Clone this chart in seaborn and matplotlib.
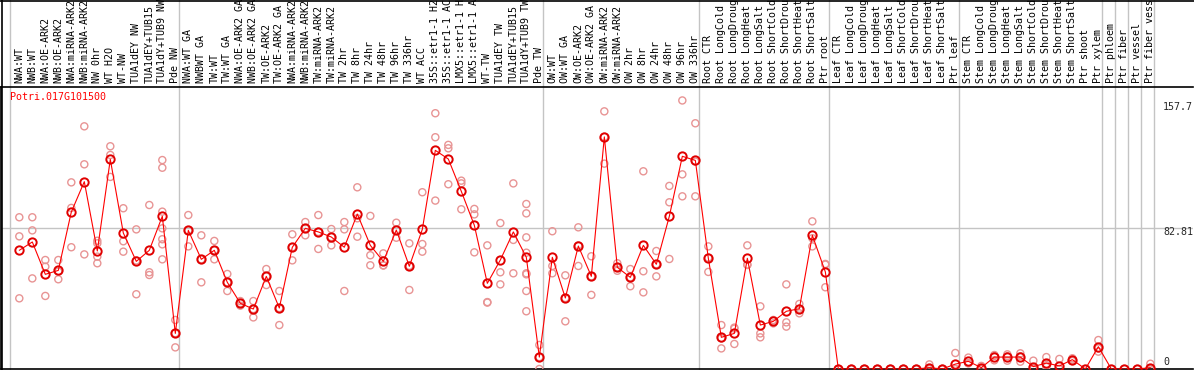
import numpy as np
import pandas as pd
import matplotlib
matplotlib.use("Agg")
import matplotlib.pyplot as plt
from matplotlib.lines import Line2D
import seaborn as sns

# sample names (as truncated in the original header)
labels = ["NWA:WT", "NWB:WT", "NWA:OE-ARK2", "NWB:OE-ARK2", "NWA:miRNA-ARK2", "NWB:miRNA-ARK2",
          "NW 0hr", "WT H2O", "WT-NW", "TUA1dEY NW", "TUA1dEY+TUB15", "TUA1dY+TUB9 NW", "Pde NW",
          "NWA:WT GA", "NWBWT GA", "TW:WT", "TW:WT GA", "NWA:OE-ARK2 GA", "NWB:OE-ARK2 GA",
          "TW:OE-ARK2", "TW:OE-ARK2 GA", "NWA:miRNA-ARK2", "NWB:miRNA-ARK2", "TW:miRNA-ARK2",
          "TW:miRNA-ARK2", "TW 2hr", "TW 8hr", "TW 24hr", "TW 48hr", "TW 96hr", "TW 336hr", "WT ACC",
          "35S::etr1-1 H2", "35S::etr1-1 AC", "LMX5::etr1-1 H", "LMX5::etr1-1 A", "WT-TW",
          "TUA1dEY TW", "TUA1dEY+TUB15", "TUA1dY+TUB9 TW", "Pde TW",
          "OW:WT", "OW:WT GA", "OW:OE-ARK2", "OW:OE-ARK2 GA", "OW:miRNA-ARK2", "OW:miRNA-ARK2",
          "OW 2hr", "OW 8hr", "OW 24hr", "OW 48hr", "OW 96hr", "OW 336hr",
          "Root CTR", "Root LongCold", "Root LongDroug", "Root LongHeat", "Root LongSalt",
          "Root ShortCold", "Root ShortDrou", "Root ShortHeat", "Root ShortSalt", "Ptr root",
          "Leaf CTR", "Leaf LongCold", "Leaf LongDroug", "Leaf LongHeat", "Leaf LongSalt",
          "Leaf ShortCold", "Leaf ShortDrou", "Leaf ShortHeat", "Leaf ShortSalt", "Ptr leaf",
          "Stem CTR", "Stem LongCold", "Stem LongDroug", "Stem LongHeat", "Stem LongSalt",
          "Stem ShortCold", "Stem ShortDrou", "Stem ShortHeat", "Stem ShortSalt", "Ptr shoot",
          "Ptr xylem", "Ptr phloem", "Ptr fiber", "Ptr vessel", "Ptr fiber vess"]

# sizes of the sample groups (separated by gray lines)
group_sizes = [13, 28, 12, 10, 10, 11, 1, 1, 1, 1]

# mean expression per sample
means = [69.7, 74.6, 55.6, 57.9, 92.2, 110.0, 69.3, 123.1, 79.9, 63.2, 69.7, 89.7, 20.9,
         81.4, 64.4, 69.7, 50.9, 38.6, 35.2, 54.4, 35.8, 71.5, 82.6, 80.5, 77.5, 71.5, 91.0,
         72.6, 63.2, 81.6, 60.3, 82.0, 128.4, 123.3, 104.3, 84.4, 50.3, 64.0, 80.5, 65.6, 7.0,
         65.6, 41.7, 72.2, 54.4, 136.3, 59.7, 53.8, 72.6, 61.5, 89.7, 124.9, 122.5,
         65.0, 18.6, 20.9, 65.0, 25.8, 28.0, 33.9, 35.4, 78.5, 57.0,
         0, 0, 0, 0, 0, 0, 0, 0.8, 0, 2.9,
         4.5, 0.8, 7.0, 7.0, 7.0, 1.4, 3.5, 1.8, 5.5, 0, 13.1,
         0, 0, 0, 0.8]

# individual replicates per sample
reps = [[89.1, 77.9, 41.5], [89.1, 81.4, 53.2], [64.0, 60.1, 42.9], [64.0, 57.2, 52.7],
        [109.6, 94.6, 71.5], [142.5, 120.2, 67.3], [75.3, 73.8, 66.0, 62.1], [130.8, 125.7, 112.8],
        [94.4, 75.0, 68.9], [82.0, 63.7, 43.9], [96.3, 56.8, 55.2],
        [122.7, 118.2, 92.4, 82.6, 76.2, 73.2, 64.4], [28.8, 21.0, 12.7],
        [90.4, 81.4, 72.0], [78.5, 64.4, 50.9], [75.2, 69.7, 64.4], [55.8, 50.9, 45.8],
        [39.9, 38.6, 37.2], [39.9, 35.2, 30.3], [58.7, 54.4, 49.3], [45.8, 35.8, 25.8],
        [79.1, 71.5, 63.8], [86.3, 82.6, 78.5], [90.4, 80.5, 70.5], [82.2, 77.5, 72.6],
        [86.3, 82.0, 45.8], [106.7, 88.5, 77.7], [89.9, 66.8, 60.9], [67.9, 60.9, 60.8],
        [85.9, 81.6, 77.1], [73.8, 60.6, 46.4], [103.8, 73.4, 68.9], [150.2, 136.1, 98.9],
        [131.6, 129.6, 108.5], [110.6, 109.0, 93.8], [94.0, 90.8, 68.5], [72.6, 39.3, 39.0],
        [85.7, 56.8, 49.7], [109.0, 75.8, 56.2],
        [96.9, 91.4, 77.3, 68.3, 56.2, 55.6, 45.8, 33.9], [14.1, 7.0, 0.0],
        [80.9, 60.5, 56.2], [55.0, 41.7, 28.0], [83.2, 72.6, 60.5], [66.2, 54.4, 43.5],
        [151.3, 136.3, 120.6], [62.1, 59.7, 57.7], [58.7, 53.8, 48.6], [116.1, 57.4, 45.0],
        [69.3, 61.5, 54.4], [107.5, 97.9, 64.6], [157.7, 114.3, 101.4], [144.3, 121.8, 101.4],
        [72.0, 65.4, 57.0], [25.8, 18.0, 12.1], [24.3, 23.7, 14.7], [72.6, 61.3, 61.1],
        [36.8, 20.9, 18.6], [28.8, 28.4, 26.8], [49.7, 27.4, 24.9], [38.2, 35.4, 32.7],
        [86.7, 76.8, 72.0], [61.7, 61.3, 48.0],
        [0, 0, 0], [0, 0, 0], [0, 0, 0], [0, 0, 0], [0, 0, 0], [0, 0, 0], [0, 0, 0],
        [2.7, 0, 0], [0, 0, 0], [9.4, 0, 0],
        [6.7, 3.5, 3.3], [1.8, 0.6, 0], [8.2, 7.7, 5.1], [8.6, 7.5, 4.9], [9.2, 7.5, 4.3],
        [4.9, 0, 0], [7.0, 2.3, 1.2], [5.9, 0, 0], [6.3, 5.5, 4.7], [0], [17.0, 12.1, 10.2],
        [0], [0], [0], [3.1, 0, 0]]

gene = "Potri.017G101500"
ref_val = 82.81
max_val = 157.7

sns.set_style("white")
plt.rcParams['font.family'] = ['DejaVu Sans Mono', 'DejaVu Sans']

W, H = 1194, 370
fig = plt.figure(figsize=(W / 100, H / 100), dpi=100)
ax = fig.add_axes([1 / W, 1 / H, 1192 / W, 282 / H])

pos = np.arange(len(labels))
rep_df = pd.DataFrame([(i, v) for i, r in enumerate(reps) for v in r], columns=["pos", "val"])
mean_df = pd.DataFrame({"pos": pos, "val": means})

# replicates
sns.scatterplot(data=rep_df, x="pos", y="val", ax=ax, marker="o", s=26,
                facecolor="none", edgecolor="#e89494", linewidth=1.0, zorder=3)
# mean line + markers
sns.lineplot(data=mean_df, x="pos", y="val", ax=ax, color="#ff0000", linewidth=0.8,
             zorder=4, estimator=None)
ax.plot(pos, means, linestyle="none", marker="o", markersize=6.0, markerfacecolor="none",
        markeredgecolor="#e00000", markeredgewidth=1.4, zorder=5)

ax.set_xlim(-1.408, 90.28)
ax.set_ylim(0, 165.6)

# group separators, extended through the header
seps = np.cumsum([0] + group_sizes) - 0.715
for s in seps:
    ax.axvline(s, ymin=0, ymax=369 / 282, color="#c4c4c4", linewidth=1.0, clip_on=False, zorder=1)
ax.axhline(ref_val, color="#c4c4c4", linewidth=1.0, zorder=1)

# sample names on top
ax.xaxis.tick_top()
ax.set_xticks(pos)
ax.set_xticklabels(labels, rotation=90, fontsize=7.2, color="black")
ax.tick_params(axis="x", length=0, pad=2.6)
ax.set_yticks([])
ax.set_xlabel("")
ax.set_ylabel("")

for side in ["top", "bottom", "left"]:
    ax.spines[side].set_color("black")
    ax.spines[side].set_linewidth(1.2)
ax.spines["right"].set_visible(False)

ax.text(9 / 1192, (369 - 97) / 282, gene, transform=ax.transAxes, color="#ff0000",
        fontsize=7.2, va="center", ha="left")

# value labels at right
xr = (1163 - 1) / 1192
ax.text(xr, (369 - 107.5) / 282, str(max_val), transform=ax.transAxes, fontsize=7.2, va="center", ha="left")
ax.text(xr, (369 - 232) / 282, str(ref_val), transform=ax.transAxes, fontsize=7.2, va="center", ha="left")
ax.text(xr, (369 - 362) / 282, "0", transform=ax.transAxes, fontsize=7.2, va="center", ha="left")

# outer frame (top and left)
fig.add_artist(Line2D([0, 1], [1 - 0.6 / H, 1 - 0.6 / H], color="black", linewidth=1.2))
fig.add_artist(Line2D([1.5 / W, 1.5 / W], [0, 1], color="black", linewidth=1.2))

fig.savefig("out.png", dpi=100)
